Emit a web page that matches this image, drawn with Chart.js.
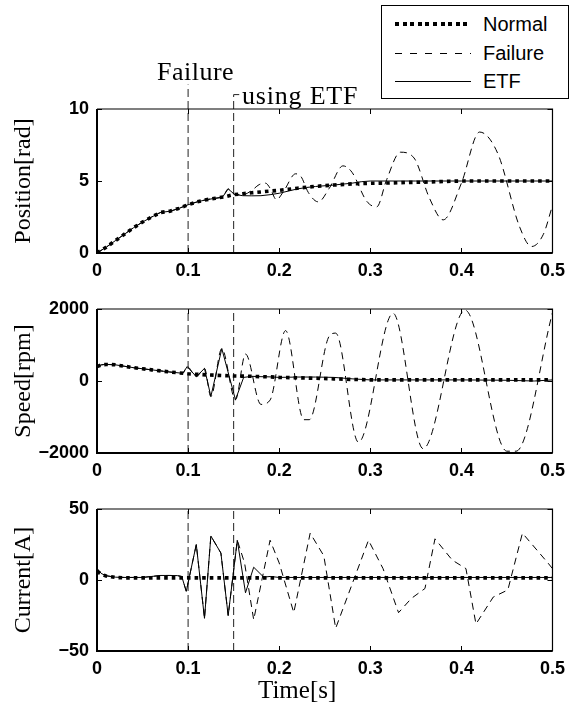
<!DOCTYPE html>
<html><head><meta charset="utf-8">
<script src="https://cdn.jsdelivr.net/npm/chart.js@4/dist/chart.umd.min.js"></script>
<style>
html,body{margin:0;padding:0;background:#fff;}
body{width:572px;height:723px;position:relative;overflow:hidden;font-family:"Liberation Sans",Arial,sans-serif;}
canvas.cv{position:absolute;left:0;}
#legend{position:absolute;left:381px;top:5px;width:188px;height:94px;border:1px solid #000;background:#fff;box-sizing:border-box;z-index:5;}
.row{position:absolute;left:0;width:100%;height:24px;}
.sample{position:absolute;left:13px;width:76px;top:50%;}
.lab{position:absolute;left:101px;top:50%;transform:translateY(-50%);font-size:20px;color:#000;line-height:1;}
.anno{position:absolute;font-family:"Liberation Serif","Times New Roman",serif;font-size:26px;color:#000;line-height:1;white-space:nowrap;}
</style>
</head><body>
<canvas id="c1" class="cv" width="572" height="290" style="top:0;width:572px;height:290px"></canvas>
<canvas id="c2" class="cv" width="572" height="200" style="top:290px;width:572px;height:200px"></canvas>
<canvas id="c3" class="cv" width="572" height="233" style="top:490px;width:572px;height:233px"></canvas>
<div id="legend">
  <div class="row" style="top:6px"><div class="sample" style="height:4px;margin-top:-2px;background:repeating-linear-gradient(to right,#000 0 4px,transparent 4px 7.6px)"></div><div class="lab">Normal</div></div>
  <div class="row" style="top:35px"><div class="sample" style="height:1px;background:repeating-linear-gradient(to right,#000 0 7px,transparent 7px 15px)"></div><div class="lab">Failure</div></div>
  <div class="row" style="top:63px"><div class="sample" style="height:1px;background:#000"></div><div class="lab">ETF</div></div>
</div>
<div class="anno" style="left:157px;top:59px;letter-spacing:0.5px">Failure</div>
<div class="anno" style="left:242px;top:83px;letter-spacing:0.8px">using ETF</div>
<div class="anno" style="left:258px;top:677px;font-size:25px">Time[s]</div>
<script>
// ---------------- DATA ----------------
const seriesNames = ["Normal", "Failure", "ETF"];
const eventTimes = [0.1, 0.15];
const xTicks = [0, 0.1, 0.2, 0.3, 0.4, 0.5];
const posTicks = [0, 5, 10];
const speedTicks = [-2000, 0, 2000];
const currentTicks = [-50, 0, 50];

// Normal (shared time base)
const tNormal = [0,0.005,0.01,0.02,0.03,0.04,0.05,0.06,0.07,0.08,0.09,0.10,0.11,0.12,0.13,0.14,0.15,0.16,0.17,0.18,0.19,0.20,0.22,0.24,0.26,0.28,0.30,0.32,0.34,0.36,0.38,0.40,0.42,0.44,0.46,0.48,0.50];
const posNormal = [0,0.2,0.4,0.85,1.3,1.75,2.15,2.5,2.82,2.9,3.1,3.35,3.55,3.7,3.8,3.9,4.05,4.12,4.18,4.24,4.3,4.35,4.5,4.63,4.72,4.8,4.84,4.86,4.9,4.92,4.97,5.0,5.0,5.0,5.0,5.0,5.0];
const speedNormal = [400,450,460,450,410,370,340,310,280,250,225,200,185,170,160,150,140,135,130,120,115,100,90,75,60,45,30,30,30,30,30,30,30,30,30,30,30];
const currentNormal = [6,4,2.8,1.8,1.5,1.5,1.5,1.5,1.5,1.5,1.5,1.5,1.5,1.5,1.5,1.5,1.5,1.5,1.5,1.5,1.5,1.5,1.5,1.5,1.5,1.5,1.5,1.5,1.5,1.5,1.5,1.5,1.5,1.5,1.5,1.5,1.5];

// ETF
const tPosETF = [0,0.01,0.02,0.03,0.04,0.05,0.06,0.07,0.08,0.09,0.10,0.11,0.12,0.13,0.138,0.144,0.151,0.16,0.17,0.18,0.19,0.20,0.21,0.22,0.23,0.24,0.26,0.28,0.29,0.30,0.35,0.40,0.45,0.50];
const posETF = [0,0.4,0.85,1.3,1.75,2.15,2.5,2.82,2.9,3.1,3.35,3.55,3.7,3.8,3.9,4.45,4.07,3.98,3.97,3.98,4.05,4.15,4.3,4.45,4.55,4.62,4.72,4.85,4.95,5.0,5.0,5.0,5.0,5.0];
const tSpeedETF = [0,0.005,0.01,0.02,0.03,0.04,0.05,0.06,0.07,0.08,0.09,0.094,0.099,0.109,0.118,0.125,0.137,0.152,0.161,0.17,0.18,0.19,0.20,0.22,0.24,0.26,0.28,0.30,0.35,0.40,0.45,0.48,0.50];
const speedETF = [400,450,460,450,410,370,340,310,280,250,225,210,400,120,350,-430,900,-520,100,130,120,115,100,110,110,100,60,30,30,30,20,0,30];
const tCurrentETF = [0,0.005,0.01,0.02,0.03,0.04,0.05,0.06,0.07,0.08,0.088,0.093,0.098,0.109,0.118,0.125,0.136,0.144,0.154,0.163,0.172,0.183,0.19,0.20,0.25,0.30,0.35,0.40,0.45,0.50];
const currentETF = [8,4.5,3,2,1.8,1.8,1.8,2.5,3.2,3.2,3.1,2.5,-8,25,-27,31,19,-25,28,-9,9,2,2.5,1.8,1.8,1.8,1.8,1.8,1.8,1.8];

// Failure
const tPosFail = [0,0.01,0.02,0.03,0.04,0.05,0.06,0.07,0.08,0.09,0.10,0.11,0.12,0.13,0.138,0.144,0.151,0.16,0.17,0.178,0.185,0.19,0.197,0.205,0.218,0.224,0.232,0.243,0.255,0.27,0.28,0.296,0.307,0.318,0.333,0.348,0.365,0.38,0.40,0.42,0.44,0.464,0.477,0.49,0.50];
const posFail = [0,0.4,0.85,1.3,1.75,2.15,2.5,2.82,2.9,3.1,3.35,3.55,3.7,3.8,3.9,4.45,4.07,4.05,4.35,4.75,4.85,4.5,3.7,4.3,5.5,5.3,4.2,3.55,4.5,6.05,5.6,3.6,3.2,5.1,7.0,6.6,3.8,2.3,4.85,8.4,6.9,1.8,0.45,1.3,3.3];
const tSpeedFail = [0,0.005,0.01,0.02,0.03,0.04,0.05,0.06,0.07,0.08,0.09,0.094,0.099,0.109,0.118,0.125,0.137,0.152,0.163,0.18,0.19,0.207,0.227,0.233,0.255,0.262,0.287,0.325,0.358,0.404,0.45,0.46,0.50];
const speedFail = [400,450,460,450,410,370,340,310,280,250,225,210,400,120,350,-430,900,-520,750,-650,-530,1400,-1075,-1075,1250,1330,-1700,1880,-1880,1970,-1950,-1950,1900];
const tCurrentFail = [0,0.005,0.01,0.02,0.03,0.04,0.05,0.06,0.07,0.08,0.088,0.093,0.098,0.109,0.118,0.125,0.136,0.144,0.154,0.162,0.172,0.19,0.20,0.216,0.234,0.249,0.262,0.298,0.314,0.331,0.345,0.36,0.371,0.39,0.405,0.416,0.435,0.451,0.467,0.495,0.50];
const currentFail = [8,4.5,3,2,1.8,1.8,1.8,2.5,3.2,3.2,3.1,2.5,-8,25,-27,31,19,-25,28,12,-28,28,12,-23,33,17,-34,28,8,-23,-13,-6,29,14,8,-31,-12,-7,33,12,8];

// ---------------- RENDER ----------------
const zip = (t, v) => t.map((x, i) => ({x: x, y: v[i]}));
const INK = '#000';

function seriesSets(tN, vN, tF, vF, tE, vE, smoothFail) {
  return [
    {label: seriesNames[1], data: zip(tF, vF), borderColor: INK, borderWidth: 1, borderDash: [7, 5], pointRadius: 0, fill: false, cubicInterpolationMode: smoothFail ? 'monotone' : 'default', tension: 0, order: 3},
    {label: seriesNames[2], data: zip(tE, vE), borderColor: INK, borderWidth: 1, pointRadius: 0, fill: false, tension: 0, order: 2},
    {label: seriesNames[0], data: zip(tN, vN), borderColor: INK, borderWidth: 3.6, borderDash: [3.6, 4], borderCapStyle: 'butt', pointRadius: 0, fill: false, tension: 0, order: 1}
  ];
}
function eventLines(lo, hi, hiA, hiB, hook) {
  const a = {label: '_ev', data: [{x: eventTimes[0], y: lo}, {x: eventTimes[0], y: hiA !== undefined ? hiA : hi}], borderColor: '#222', borderWidth: 1, borderDash: [8, 4], pointRadius: 0, clip: false, order: 4};
  const topB = hiB !== undefined ? hiB : hi;
  const pts = [{x: eventTimes[1], y: lo}, {x: eventTimes[1], y: topB}];
  if (hook) pts.push({x: hook, y: topB});
  const b = {label: '_ev', data: pts, borderColor: '#222', borderWidth: 1, borderDash: [8, 4], pointRadius: 0, clip: false, order: 4};
  return [a, b];
}

const framePlugin = {
  id: 'frame',
  afterDatasetsDraw(chart) {
    const {ctx, chartArea: ca, scales} = chart;
    ctx.save();
    ctx.strokeStyle = '#000';
    ctx.setLineDash([]);
    ctx.lineWidth = 1;
    const tl = 5;
    scales.x.ticks.forEach(t => {
      const px = Math.round(scales.x.getPixelForValue(t.value)) + 0.5;
      ctx.beginPath();
      ctx.moveTo(px, ca.bottom); ctx.lineTo(px, ca.bottom - tl);
      ctx.moveTo(px, ca.top); ctx.lineTo(px, ca.top + tl);
      ctx.stroke();
    });
    scales.y.ticks.forEach(t => {
      const py = Math.round(scales.y.getPixelForValue(t.value)) + 0.5;
      ctx.beginPath();
      ctx.moveTo(ca.left, py); ctx.lineTo(ca.left + tl, py);
      ctx.moveTo(ca.right, py); ctx.lineTo(ca.right - tl, py);
      ctx.stroke();
    });
    ctx.lineWidth = 1.2;
    ctx.beginPath();
    ctx.moveTo(ca.left, ca.top); ctx.lineTo(ca.right, ca.top); ctx.lineTo(ca.right, ca.bottom);
    ctx.stroke();
    ctx.lineWidth = 2;
    ctx.beginPath();
    ctx.moveTo(ca.left, ca.top); ctx.lineTo(ca.left, ca.bottom); ctx.lineTo(ca.right, ca.bottom);
    ctx.stroke();
    ctx.restore();
  }
};

const tickFont = {family: '"Liberation Sans", Arial, sans-serif', size: 18, weight: 'bold'};
const titleFont = {family: '"Liberation Serif", "Times New Roman", serif', size: 24};
const fmt = v => (v < 0 ? '\u2212' + Math.abs(v) : String(v));

function makeChart(id, datasets, yTicks, yTitle, chartTop, xAxisH) {
  const yMin = yTicks[0], yMax = yTicks[yTicks.length - 1];
  return new Chart(document.getElementById(id), {
    type: 'line',
    data: {datasets},
    plugins: [framePlugin],
    options: {
      responsive: false,
      animation: false,
      events: [],
      layout: {padding: {left: 0, right: 17, top: chartTop, bottom: 0}},
      plugins: {legend: {display: false}, tooltip: {enabled: false}, title: {display: false}},
      scales: {
        x: {
          type: 'linear', min: 0, max: 0.5,
          afterBuildTicks: s => { s.ticks = xTicks.map(v => ({value: v})); },
          afterFit: s => { s.height = xAxisH; },
          grid: {display: false, drawTicks: false},
          border: {display: false},
          ticks: {font: tickFont, color: '#000', padding: 7, maxRotation: 0, autoSkip: false, callback: v => String(v)},
          title: {display: false}
        },
        y: {
          type: 'linear', min: yMin, max: yMax,
          afterBuildTicks: s => { s.ticks = yTicks.map(v => ({value: v})); },
          afterFit: s => { s.width = 97; },
          grid: {display: false, drawTicks: false},
          border: {display: false},
          ticks: {font: tickFont, color: '#000', padding: 8, callback: v => fmt(v)},
          title: {display: true, text: yTitle, font: titleFont, color: '#000', padding: {top: 9, bottom: 0}}
        }
      }
    }
  });
}

makeChart('c1',
  seriesSets(tNormal, posNormal, tPosFail, posFail, tPosETF, posETF, true).concat(eventLines(0, 10, 11.7, 11.0, 0.158)),
  posTicks, 'Position[rad]', 109, 37);
makeChart('c2',
  seriesSets(tNormal, speedNormal, tSpeedFail, speedFail, tSpeedETF, speedETF, true).concat(eventLines(-2000, 2000)),
  speedTicks, 'Speed[rpm]', 19, 37);
makeChart('c3',
  seriesSets(tNormal, currentNormal, tCurrentFail, currentFail, tCurrentETF, currentETF, false).concat(eventLines(-50, 50)),
  currentTicks, 'Current[A]', 19, 72);
</script>
</body></html>
